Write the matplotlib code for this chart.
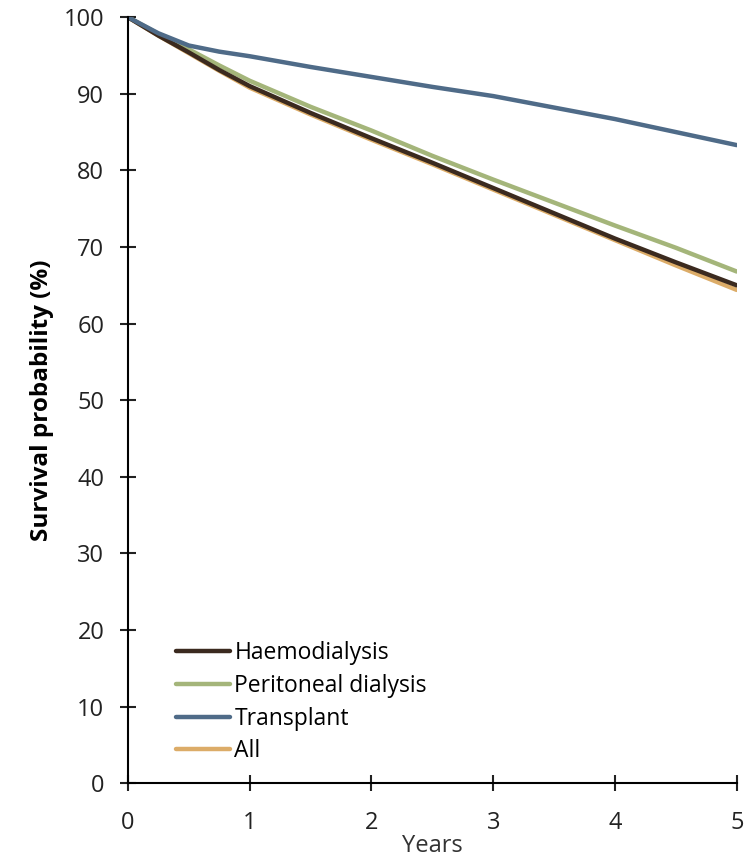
import matplotlib as mpl
mpl.use('Agg')
mpl.rcParams['font.family'] = ['Open Sans', 'DejaVu Sans']
mpl.rcParams['font.size'] = 17
import matplotlib.pyplot as plt

years = [0, 0.25, 0.5, 0.75, 1, 1.5, 2, 2.5, 3, 3.5, 4, 4.5, 5]
haemodialysis = [100, 97.6, 95.4, 93.1, 91.0, 87.5, 84.2, 81.0, 77.7, 74.4, 71.1, 68.0, 65.0]
peritoneal = [100, 97.8, 95.8, 93.7, 91.7, 88.3, 85.2, 81.9, 78.8, 75.8, 72.8, 69.9, 66.8]
transplant = [100, 97.9, 96.3, 95.5, 94.9, 93.5, 92.2, 90.9, 89.7, 88.2, 86.7, 85.0, 83.3]
all_patients = [100, 97.6, 95.3, 93.0, 90.8, 87.3, 84.0, 80.8, 77.5, 74.2, 70.9, 67.6, 64.4]

labels = ['Haemodialysis', 'Peritoneal dialysis', 'Transplant', 'All']
colors = ['#3b2a1f', '#a4b57a', '#4f6b88', '#dcac68']
series = [haemodialysis, peritoneal, transplant, all_patients]

fig = plt.figure(figsize=(7.48, 8.58), dpi=100)
ax = fig.add_axes([0.171, 0.087, 0.814, 0.893])

# draw "All" first so the haemodialysis line sits on top of it
order = [3, 1, 0, 2]
handles = {}
for i in order:
    line, = ax.plot(years, series[i], color=colors[i], lw=3.2, label=labels[i],
                    solid_capstyle='round')
    handles[i] = line

ax.set_xlim(0, 5)
ax.set_ylim(0, 100)
ax.set_xticks(range(0, 6))
ax.set_yticks(range(0, 101, 10))
ax.spines['top'].set_visible(False)
ax.spines['right'].set_visible(False)
ax.spines['left'].set_linewidth(1.5)
ax.spines['bottom'].set_linewidth(1.5)
ax.tick_params(direction='inout', length=12, width=1.5, colors='#222222',
               labelsize=17)
ax.tick_params(axis='x', pad=14)
ax.tick_params(axis='y', pad=11)
ax.set_xlabel('Years', fontsize=17, labelpad=-1, color='#333333')
ax.set_ylabel('Survival probability (%)', fontsize=17.5, fontweight='bold',
              labelpad=7)

ax.legend([handles[i] for i in range(4)], labels, loc='lower left',
          bbox_to_anchor=(0.079, 0.026), frameon=False, fontsize=16.5,
          handlelength=2.35, handletextpad=0.2, labelspacing=0.38,
          borderaxespad=0, borderpad=0)

plt.savefig('out.png', dpi=100)
